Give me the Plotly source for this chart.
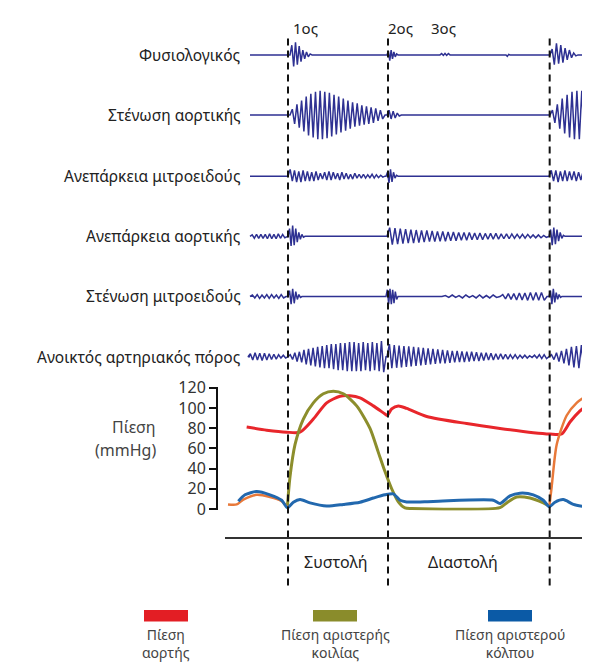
import plotly.graph_objects as go

# ---------------- DATA ----------------
# time axis in ms, S1 at 0, S2 at 300, next S1 at 785
heart_sounds_labels = ["1ος", "2ος", "3ος"]
heart_sounds_t = [51, 336, 465]
cycle_marks_t = [0, 300, 785]
phase_labels = ["Συστολή", "Διαστολή"]
phase_t = [141, 525]

row_labels = ["Φυσιολογικός", "Στένωση αορτικής", "Ανεπάρκεια μιτροειδούς",
              "Ανεπάρκεια αορτικής", "Στένωση μιτροειδούς", "Ανοικτός αρτηριακός πόρος"]

# each sound/murmur: (start ms, end ms, successive peak amplitudes)
normal_events = [
    (6, 72, [10, -12, 13, -10, 9, -7, 5, -4, 3, -2, 1]),
    (297, 330, [4, -6, 5, -4, 3, -2, 1]),
    (456, 486, [1.5, -0.5, 1.5, -0.5, 1.5]),
    (654, 666, [-1.5, 0.5]),
    (786, 870, [6, -10, 12, -9, 10, -8, 7, -5, 5, -3, 2, -1]),
]
as_events = [
    (6, 291, [6, -9, 11, -13, 15, -17, 19, -21, 22, -23, 24, -25, 25, -25, 24, -24, 23, -22, 21, -20,
              19, -18, 17, -16, 15, -14, 13, -12, 12, -11, 10, -10, 9, -9, 8, -8, 7, -6, 5, -4]),
    (297, 340, [5, -4, 4, -3, 2, -1]),
    (786, 940, [5, -8, 11, -14, 17, -19, 21, -23, 24, -25, 25, -25, 25, -25, 24, -24, 23, -23, 22, -22]),
]
mr_events = [
    (0, 291, [7, -5, 6, -6, 5, -6, 6, -5, 5, -5, 4, -5, 5, -4, 3, -3, 4, -4, 5, -4, 4, -3, 3, -4, 4, -3,
              3, -3, 2, -3, 3, -2, 2, -2, 2, -2, 1.5, -1.5, 2, -2, 1.5, -1.5, 1, -1]),
    (294, 330, [4, -7, 7, -6, 4, -2, 1]),
    (783, 940, [6, -5, 6, -6, 5, -5, 6, -5, 5, -4, 5, -5, 4, -4, 5, -4, 4, -4, 3, -3, 4, -3]),
]
ar_events = [
    (-114, -3, [1.5, -2, 2, -2, 2, -2, 2, -2.5, 2.5, -2.5, 2, -2.5, 2.5, -2, 2, -1.5]),
    (0, 51, [8, -10, 11, -9, 8, -6, 4, -3, 2, -1]),
    (297, 783, [9, -8.5, 8.5, -8, 8, -7.5, 7.5, -7, 7, -7, 6.5, -6.5, 6, -6, 6, -5.5, 5.5, -5.5, 5, -5,
                5, -5, 4.5, -4.5, 4.5, -4.5, 4, -4, 4, -4, 4, -3.5, 3.5, -3.5, 3.5, -3.5, 3, -3, 3, -3,
                3, -3, 2.5, -2.5, 2.5, -2.5, 2.5, -2, 2, -2, 2, -2, 2, -1.5, 1.5, -1.5, 1.5, -1.5, 1, -1]),
    (783, 831, [7, -9, 9, -8, 7, -5, 4, -2, 1]),
]
ms_events = [
    (-114, -6, [1.5, -1.5, 2, -2, 1.5, -1.5, 2, -2, 2, -1.5, 1.5, -2, 2, -1.5]),
    (0, 42, [6, -8, 8, -7, 5, -3, 2, -1]),
    (294, 330, [7, -8, 8, -8, 7, -7, 5, -3]),
    (462, 636, [1, -1, 1.5, -1, 1, -1.5, 1.5, -1, 1, -1.5, 1.5, -1.5, 1, -1.5, 1.5, -1]),
    (636, 777, [2, -2.5, 3, -3, 3, -3.5, 3.5, -3.5, 3.5, -4, 4, -4, 4, -4, 4, -4]),
    (783, 822, [6, -8, 8, -6, 4, -3, 2, -1]),
]
pda_events = [
    (-120, 0, [3, -3.5, 4, -3.5, 3.5, -4, 3.5, -3.5, 3, -3, 2.5, -2.5, 2, -1.5, 1.5, -1.5]),
    (0, 294, [2, -3, 4, -5, 5, -6, 7, -8, 8, -9, 9, -10, 10, -11, 11, -12, 12, -12, 13, -13, 13, -14,
              14, -14, 14, -15, 15, -15, 15, -15, 14, -15, 15, -14, 14, -15, 15, -14, 14, -15, 16, -16]),
    (297, 783, [13, -12, 12, -11.5, 11.5, -11, 11, -10.5, 10.5, -10, 10, -9.5, 9.5, -9, 9, -8.5, 8.5, -8,
                8, -7.5, 7.5, -7, 7, -7, 6.5, -6.5, 6, -6, 6, -5.5, 5.5, -5.5, 5, -5, 5, -4.5, 4.5, -4.5,
                4, -4, 4, -3.5, 3.5, -3.5, 3, -3, 3, -2.5, 2.5, -2.5, 2, -2, 2, -2, 1.5, -1.5, 1.5, -1.5,
                1, -1, 1.5, -1.5, 2, -2, 2, -2]),
    (783, 940, [2, -3, 4, -5, 6, -7, 8, -9, 10, -11, 11, -12, 12, -13, 13, -13, 14, -14, 14, -14]),
]
rows_events = [normal_events, as_events, mr_events, ar_events, ms_events, pda_events]

# pressure curves (mmHg)
aorta_t = [-124, -64, -4, 36, 76, 116, 156, 186, 216, 256, 291, 298, 311, 331, 356, 416, 536, 636, 736, 786, 821, 846, 876, 906]
aorta_p = [81, 78, 76, 76, 89, 105, 111.5, 112, 110, 102, 94, 92.5, 99, 102, 99.5, 91.5, 84.5, 79.7, 75.5, 74.2, 74.2, 86, 97, 105]

lv_pre_t = [-180, -154, -134, -94, -54, -19, -2]
lv_pre_p = [4.5, 4.5, 9.3, 14, 11.8, 7.7, 2]
lv_t = [-2, 6, 21, 46, 76, 106, 136, 166, 206, 246, 271, 291, 311, 331, 351, 371, 636, 656, 686, 726, 766, 784]
lv_p = [2, 31.7, 63.6, 89, 105, 114, 116.5, 114, 102, 79.7, 56, 37, 20, 7, 1, 0.5, 1.3, 6, 11.8, 10.8, 6, 2.9]
lv_next_t = [784, 791, 806, 836, 866, 901]
lv_next_p = [2.9, 22, 63.6, 92.5, 105, 113]

la_t = [-149, -129, -94, -54, -19, -2, 16, 36, 66, 116, 166, 216, 256, 291, 316, 336, 356, 436, 616, 636, 666, 696, 736, 766, 784, 801, 826, 856, 906]
la_p = [7.7, 14, 17.3, 14, 8.6, 1.3, 6.7, 9.3, 6, 2.9, 4.5, 6.7, 10.8, 14, 15, 8.6, 7, 7.5, 8.6, 5.4, 13, 15.6, 14, 8.6, 2.2, 6.7, 9.3, 4.5, 1.3]

pressure_ticks = [0, 20, 40, 60, 80, 100, 120]
legend_labels = ["Πίεση<br>αορτής", "Πίεση αριστερής<br>κοιλίας", "Πίεση αριστερού<br>κόλπου"]

# ---------------- FIGURE ----------------
W, H = 590, 672
OFF = 8                                  # the page body's default margin shifts the figure
PX_MS = 3.0                              # ms per pixel
X0_PX = 288                              # page pixel of S1
FONT = "Noto Sans, Open Sans, sans-serif"
WAVE = "#2E3192"
C_RED, C_OLIVE, C_BLUE, C_ORANGE = "#E8262B", "#8C8E2C", "#2268AE", "#E8793A"

def px2t(px):
    return (px - X0_PX) * PX_MS

def fx(px):      # page pixel -> paper x
    return (px - OFF) / W

def fy(py):      # page pixel -> paper y
    return 1 - (py - OFF) / H

def build(events, t_start=-114, t_end=960):
    xs, ys = [t_start], [0]
    for t0, t1, amps in events:
        n = len(amps)
        dt = (t1 - t0) / (n + 1)
        xs.append(t0); ys.append(0)
        for i, a in enumerate(amps):
            xs.append(t0 + (i + 1) * dt); ys.append(a)
        xs.append(t1); ys.append(0)
    xs.append(t_end); ys.append(0)
    return xs, ys

fig = go.Figure()
baselines = [45, 107, 170, 232, 294, 356]
layout_axes = {}
for k, (ev, b, lab) in enumerate(zip(rows_events, baselines, row_labels)):
    ax = "y" if k == 0 else f"y{k+1}"
    xs, ys = build(ev)
    fig.add_trace(go.Scatter(x=xs, y=ys, mode="lines", xaxis="x", yaxis=ax,
                             line=dict(color=WAVE, width=1.5), hoverinfo="skip", showlegend=False))
    key = "yaxis" if k == 0 else f"yaxis{k+1}"
    layout_axes[key] = dict(domain=[fy(b + 30), fy(b - 30)], range=[-30, 30],
                            visible=False, anchor="x", fixedrange=True)
    fig.add_annotation(x=px2t(243), y=0, xref="x", yref=ax, text=lab, showarrow=False,
                       xanchor="right", yanchor="middle", font=dict(family=FONT, size=15.5, color="#222"))

# pressure panel on y7
pr_lo, pr_hi = -1.5, 120.8
ppm = 125 / 120.0
layout_axes["yaxis7"] = dict(domain=[fy(513 + (0 - pr_lo) * ppm), fy(388 - (pr_hi - 120) * ppm)],
                             range=[pr_lo, pr_hi], anchor="free", position=fx(217),
                             showline=True, linecolor="#111", linewidth=2, ticks="outside", ticklen=7,
                             tickwidth=2, tickcolor="#111", tickvals=pressure_ticks, showgrid=False,
                             zeroline=False, tickfont=dict(family=FONT, size=16, color="#333"),
                             fixedrange=True)

def pline(t, p, color, width=3):
    fig.add_trace(go.Scatter(x=t, y=p, mode="lines", xaxis="x", yaxis="y7",
                             line=dict(color=color, width=width, shape="spline", smoothing=0.7),
                             hoverinfo="skip", showlegend=False))

pline(aorta_t, aorta_p, C_RED)
pline(lv_t, lv_p, C_OLIVE)
pline(lv_pre_t, lv_pre_p, C_ORANGE, 2.5)
pline(lv_next_t, lv_next_p, C_ORANGE, 2.5)
pline(la_t, la_p, C_BLUE)

fig.add_annotation(x=fx(158), y=fy(429), xref="paper", yref="paper", text="Πίεση", showarrow=False,
                   xanchor="right", yanchor="middle", font=dict(family=FONT, size=16, color="#444"))
fig.add_annotation(x=fx(158), y=fy(452), xref="paper", yref="paper", text="(mmHg)", showarrow=False,
                   xanchor="right", yanchor="middle", font=dict(family=FONT, size=16, color="#444"))

# dashed cycle marks
for t in cycle_marks_t:
    fig.add_shape(type="line", xref="x", yref="paper", x0=t, x1=t, y0=fy(28), y1=fy(597),
                  line=dict(color="#111", width=2, dash="7px,5px"))
# baseline of lower panel
fig.add_shape(type="line", xref="paper", yref="paper", x0=fx(225), x1=1, y0=fy(543), y1=fy(543),
              line=dict(color="#333", width=2))

for lab, t in zip(heart_sounds_labels, heart_sounds_t):
    fig.add_annotation(x=t, y=fy(17), xref="x", yref="paper", text=lab, showarrow=False,
                       xanchor="center", yanchor="middle", font=dict(family=FONT, size=15, color="#222"))
for lab, t in zip(phase_labels, phase_t):
    fig.add_annotation(x=t, y=fy(568), xref="x", yref="paper", text=lab, showarrow=False,
                       xanchor="center", yanchor="middle", font=dict(family=FONT, size=16, color="#222"))

# legend swatches
for lab, col, (xa, xb) in zip(legend_labels, ["#E31E24", "#8A8C2B", "#0B5AA6"],
                              [(144, 188), (313, 357), (488, 532)]):
    fig.add_shape(type="rect", xref="paper", yref="paper", x0=fx(xa), x1=fx(xb),
                  y0=fy(629), y1=fy(617), fillcolor=col, line=dict(width=0))
    fig.add_annotation(x=fx((xa + xb) / 2), y=fy(631), xref="paper", yref="paper", text=lab,
                       showarrow=False, xanchor="center", yanchor="top", align="center",
                       font=dict(family=FONT, size=14, color="#444"))

fig.update_layout(
    width=W, height=H, margin=dict(l=0, r=0, t=0, b=0),
    paper_bgcolor="white", plot_bgcolor="white",
    xaxis=dict(range=[px2t(OFF), px2t(OFF + W)], visible=False, domain=[0, 1], fixedrange=True),
    showlegend=False,
    **layout_axes,
)

fig.write_html("out.html", config={"displayModeBar": False})
